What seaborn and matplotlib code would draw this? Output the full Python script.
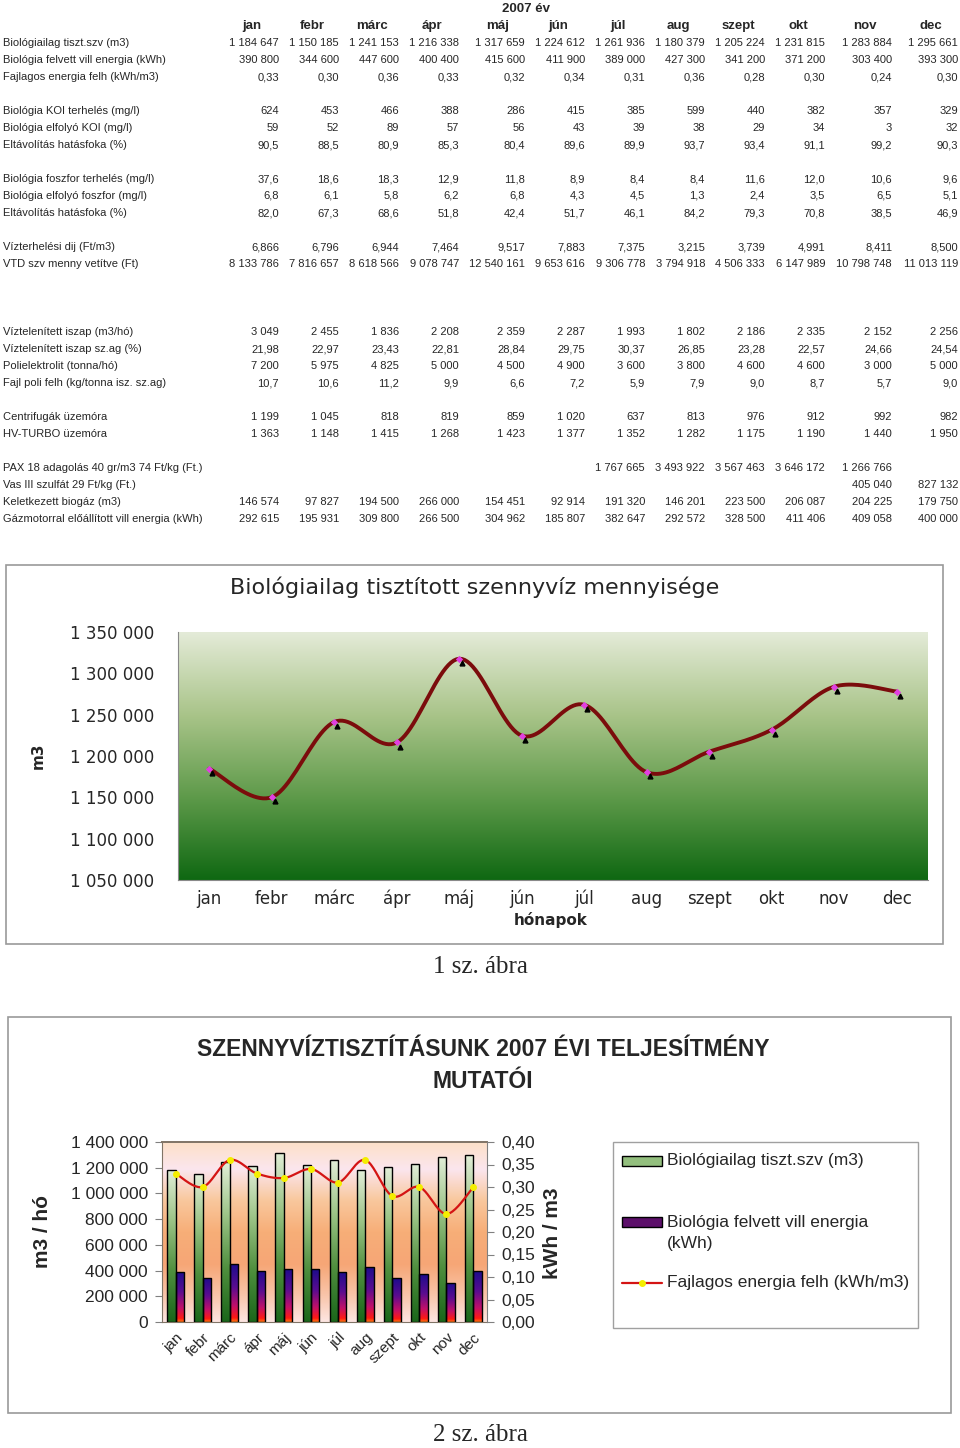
import numpy as np
import pandas as pd
import matplotlib
matplotlib.use("Agg")
import matplotlib.pyplot as plt
import matplotlib.transforms as mtrans
import seaborn as sns
from matplotlib.colors import LinearSegmentedColormap
from matplotlib.patches import Rectangle
from matplotlib.lines import Line2D
from matplotlib.ticker import FuncFormatter

sns.set_style("white")
plt.rcParams["font.family"] = ["Liberation Sans", "DejaVu Sans"]

# --- data (2007) ---
months = ["jan", "febr", "márc", "ápr", "máj", "jún", "júl", "aug", "szept", "okt", "nov", "dec"]

szv_m3 = [1184647, 1150185, 1241153, 1216338, 1317659, 1224612, 1261936, 1180379, 1205224, 1231815, 1283884, 1295661]
energia_kwh = [390800, 344600, 447600, 400400, 415600, 411900, 389000, 427300, 341200, 371200, 303400, 393300]
fajl_energia = [0.33, 0.30, 0.36, 0.33, 0.32, 0.34, 0.31, 0.36, 0.28, 0.30, 0.24, 0.30]
koi_terheles = [624, 453, 466, 388, 286, 415, 385, 599, 440, 382, 357, 329]
koi_elfolyo = [59, 52, 89, 57, 56, 43, 39, 38, 29, 34, 3, 32]
koi_hatasfok = [90.5, 88.5, 80.9, 85.3, 80.4, 89.6, 89.9, 93.7, 93.4, 91.1, 99.2, 90.3]
p_terheles = [37.6, 18.6, 18.3, 12.9, 11.8, 8.9, 8.4, 8.4, 11.6, 12.0, 10.6, 9.6]
p_elfolyo = [6.8, 6.1, 5.8, 6.2, 6.8, 4.3, 4.5, 1.3, 2.4, 3.5, 6.5, 5.1]
p_hatasfok = [82.0, 67.3, 68.6, 51.8, 42.4, 51.7, 46.1, 84.2, 79.3, 70.8, 38.5, 46.9]
vizterh_dij = [6.866, 6.796, 6.944, 7.464, 9.517, 7.883, 7.375, 3.215, 3.739, 4.991, 8.411, 8.500]
vtd_ft = [8133786, 7816657, 8618566, 9078747, 12540161, 9653616, 9306778, 3794918, 4506333, 6147989, 10798748, 11013119]
iszap_m3 = [3049, 2455, 1836, 2208, 2359, 2287, 1993, 1802, 2186, 2335, 2152, 2256]
iszap_szag = [21.98, 22.97, 23.43, 22.81, 28.84, 29.75, 30.37, 26.85, 23.28, 22.57, 24.66, 24.54]
polielektrolit = [7200, 5975, 4825, 5000, 4500, 4900, 3600, 3800, 4600, 4600, 3000, 5000]
fajl_poli = [10.7, 10.6, 11.2, 9.9, 6.6, 7.2, 5.9, 7.9, 9.0, 8.7, 5.7, 9.0]
centrifuga_ora = [1199, 1045, 818, 819, 859, 1020, 637, 813, 976, 912, 992, 982]
hvturbo_ora = [1363, 1148, 1415, 1268, 1423, 1377, 1352, 1282, 1175, 1190, 1440, 1950]
pax18_ft = [None] * 6 + [1767665, 3493922, 3567463, 3646172, 1266766, None]
vas3_ft = [None] * 10 + [405040, 827132]
biogaz_m3 = [146574, 97827, 194500, 266000, 154451, 92914, 191320, 146201, 223500, 206087, 204225, 179750]
gazmotor_kwh = [292615, 195931, 309800, 266500, 304962, 185807, 382647, 292572, 328500, 411406, 409058, 400000]

# values as plotted on the first chart (dec point sits lower than the table)
chart1_m3 = [1184647, 1150185, 1241153, 1216338, 1317659, 1224612, 1261936, 1180379, 1205224, 1231815, 1283884, 1278000]

# table rows: (label, values, decimals), None = empty row
table_rows = [
    ("Biológiailag tiszt.szv (m3)", szv_m3, 0),
    ("Biológia felvett vill energia (kWh)", energia_kwh, 0),
    ("Fajlagos energia felh (kWh/m3)", fajl_energia, 2),
    None,
    ("Biológia KOI terhelés (mg/l)", koi_terheles, 0),
    ("Biológia elfolyó KOI (mg/l)", koi_elfolyo, 0),
    ("Eltávolítás hatásfoka (%)", koi_hatasfok, 1),
    None,
    ("Biológia foszfor terhelés (mg/l)", p_terheles, 1),
    ("Biológia elfolyó foszfor (mg/l)", p_elfolyo, 1),
    ("Eltávolítás hatásfoka (%)", p_hatasfok, 1),
    None,
    ("Vízterhelési dij (Ft/m3)", vizterh_dij, 3),
    ("VTD szv menny vetítve (Ft)", vtd_ft, 0),
    None, None, None,
    ("Víztelenített iszap (m3/hó)", iszap_m3, 0),
    ("Víztelenített iszap sz.ag (%)", iszap_szag, 2),
    ("Polielektrolit (tonna/hó)", polielektrolit, 0),
    ("Fajl poli felh (kg/tonna isz. sz.ag)", fajl_poli, 1),
    None,
    ("Centrifugák üzemóra", centrifuga_ora, 0),
    ("HV-TURBO üzemóra", hvturbo_ora, 0),
    None,
    ("PAX 18 adagolás 40 gr/m3 74 Ft/kg (Ft.)", pax18_ft, 0),
    ("Vas III szulfát 29 Ft/kg (Ft.)", vas3_ft, 0),
    ("Keletkezett biogáz (m3)", biogaz_m3, 0),
    ("Gázmotorral előállított vill energia (kWh)", gazmotor_kwh, 0),
]

W, H = 960, 1448


def fx(x):
    return x / W


def fy(y):
    return 1 - y / H


def hu(v, d=0):
    if v is None:
        return ""
    return f"{v:,.{d}f}".replace(",", " ").replace(".", ",")


def smooth(y, n=24):
    # Excel-style smoothed line: cubic Bezier through the points
    p = np.column_stack([np.arange(len(y)), np.asarray(y, float)])
    ext = np.vstack([p[0], p, p[-1]])
    t = np.linspace(0, 1, n)[:, None]
    segs = []
    for i in range(len(p) - 1):
        p0, p1, p2, p3 = ext[i], ext[i + 1], ext[i + 2], ext[i + 3]
        c1 = p1 + (p2 - p0) / 6
        c2 = p2 - (p3 - p1) / 6
        seg = (1 - t) ** 3 * p1 + 3 * (1 - t) ** 2 * t * c1 + 3 * (1 - t) * t ** 2 * c2 + t ** 3 * p2
        segs.append(seg if i == 0 else seg[1:])
    pts = np.vstack(segs)
    return pts[:, 0], pts[:, 1]


grad = np.linspace(0, 1, 256).reshape(-1, 1)

fig = plt.figure(figsize=(9.6, 14.48), dpi=100)

# --- table ---
col_right = [279, 339, 399, 459, 525, 585, 645, 705, 765, 825, 892, 958]
fig.text(fx(526), fy(9), "2007 év", ha="center", va="center", fontsize=9.5, fontweight="bold")
for m, xr in zip(months, col_right):
    fig.text(fx(xr - 27), fy(26), m, ha="center", va="center", fontsize=9.5, fontweight="bold")
for k, row in enumerate(table_rows):
    if row is None:
        continue
    label, vals, dec = row
    y = 43 + 17 * k
    fig.text(fx(3), fy(y), label, ha="left", va="center", fontsize=8)
    for v, xr in zip(vals, col_right):
        fig.text(fx(xr), fy(y), hu(v, dec), ha="right", va="center", fontsize=8)

# --- chart 1 ---
fig.patches.append(Rectangle((fx(6), fy(944)), fx(943) - fx(6), fy(565) - fy(944),
                             transform=fig.transFigure, fill=False, edgecolor="#9a9a9a", lw=1.2))
ax1 = fig.add_axes([fx(178), fy(880), (928 - 178) / W, (880 - 632) / H])
green_bg = LinearSegmentedColormap.from_list("gbg", ["#e4ebd8", "#a9c489", "#5e9a4a", "#0f6812"])
ax1.imshow(grad, cmap=green_bg, extent=(-0.5, 11.5, 1050000, 1350000), aspect="auto", origin="upper", zorder=0)
xs, ys = smooth(chart1_m3)
ax1.plot(xs, ys, color="#7b0c0c", lw=2.8, solid_capstyle="round", zorder=3)
off = ax1.transData + mtrans.ScaledTranslation(2 / 72, -3 / 72, fig.dpi_scale_trans)
ax1.plot(range(12), chart1_m3, ls="none", marker="^", ms=3.5, color="black", transform=off, zorder=4)
sns.scatterplot(x=list(range(12)), y=chart1_m3, ax=ax1, marker="D", color="#e040e0", s=14,
                linewidth=0, zorder=5)
ax1.set_xlim(-0.5, 11.5)
ax1.set_ylim(1050000, 1350000)
ax1.set_yticks(np.arange(1050000, 1350001, 50000))
ax1.yaxis.set_major_formatter(FuncFormatter(lambda v, p: hu(v)))
ax1.set_xticks(np.arange(-0.5, 12, 1))
ax1.set_xticklabels([])
ax1.set_xticks(range(12), minor=True)
ax1.set_xticklabels(months, minor=True)
ax1.tick_params(axis="x", which="major", length=6, color="#8a8a8a", direction="out")
ax1.tick_params(axis="x", which="minor", length=0, pad=7, labelsize=12, labelfontfamily="DejaVu Sans")
ax1.tick_params(axis="y", length=8, color="#8a8a8a", direction="out", pad=9, labelsize=12,
                labelfontfamily="DejaVu Sans")
for s in ["top", "right"]:
    ax1.spines[s].set_visible(False)
for s in ["left", "bottom"]:
    ax1.spines[s].set_color("#8a8a8a")
ax1.set_xlabel("")
ax1.set_ylabel("")
fig.text(fx(475), fy(587), "Biológiailag tisztított szennyvíz mennyisége", ha="center", va="center",
         fontsize=16, family="DejaVu Sans")
fig.text(fx(551), fy(920), "hónapok", ha="center", va="center", fontsize=11, fontweight="bold",
         family="DejaVu Sans")
fig.text(fx(38), fy(756), "m3", ha="center", va="center", rotation=90, fontsize=11, fontweight="bold",
         family="DejaVu Sans")
fig.text(0.5, fy(967), "1 sz. ábra", ha="center", va="center", fontsize=18, family="Liberation Serif")

# --- chart 2 ---
fig.patches.append(Rectangle((fx(8), fy(1413)), fx(951) - fx(8), fy(1017) - fy(1413),
                             transform=fig.transFigure, fill=False, edgecolor="#9a9a9a", lw=1.2))
fig.text(0.503, fy(1050), "SZENNYVÍZTISZTÍTÁSUNK 2007 ÉVI TELJESÍTMÉNY", ha="center", va="center",
         fontsize=16.5, fontweight="bold")
fig.text(0.503, fy(1082), "MUTATÓI", ha="center", va="center", fontsize=16.5, fontweight="bold")

ax2 = fig.add_axes([fx(162), fy(1322), (487 - 162) / W, (1322 - 1142) / H])
orange_bg = LinearSegmentedColormap.from_list(
    "obg", [(0, "#fde0c8"), (0.15, "#fbe6ee"), (0.32, "#f9c89e"), (0.5, "#f7ae78"),
            (0.68, "#f6a676"), (0.86, "#f9c6ac"), (1, "#fde6e2")])
ax2.imshow(grad, cmap=orange_bg, extent=(-0.5, 11.5, 0, 1400000), aspect="auto", origin="upper", zorder=0)

s_szv = "Biológiailag tiszt.szv (m3)"
s_en = "Biológia felvett vill energia (kWh)"
bars = pd.DataFrame({
    "month": months * 2,
    "series": [s_szv] * 12 + [s_en] * 12,
    "value": szv_m3 + energia_kwh,
})
sns.barplot(data=bars, x="month", y="value", hue="series", hue_order=[s_szv, s_en], ax=ax2,
            width=0.62, palette=["#7fae6a", "#5a1070"], saturation=1, errorbar=None,
            edgecolor="black", linewidth=1.0, legend=False)

green_bar = LinearSegmentedColormap.from_list("gbar", ["#e2eed8", "#9cc487", "#4f8f3e", "#1a661a"])
energy_bar = LinearSegmentedColormap.from_list(
    "ebar", [(0, "#1c0c8c"), (0.4, "#5a0c90"), (0.72, "#c0106a"), (0.93, "#ff1a12"), (1, "#ff7a10")])
for i, bar in enumerate(list(ax2.patches)):
    cm = green_bar if i < 12 else energy_bar
    x0, w, h = bar.get_x(), bar.get_width(), bar.get_height()
    im = ax2.imshow(grad, cmap=cm, extent=(x0, x0 + w, 0, h), aspect="auto", origin="upper", zorder=2)
    im.set_clip_path(bar)
    bar.set_facecolor("none")
    bar.set_zorder(3)

ax2.set_xlim(-0.5, 11.5)
ax2.set_ylim(0, 1400000)
ax2.set_yticks(np.arange(0, 1400001, 200000))
ax2.yaxis.set_major_formatter(FuncFormatter(lambda v, p: hu(v)))
ax2.set_xticks(np.arange(-0.5, 12, 1))
ax2.set_xticklabels([])
ax2.set_xticks(range(12), minor=True)
ax2.set_xticklabels(months, minor=True, rotation=45, ha="right", rotation_mode="anchor")
ax2.tick_params(axis="x", which="major", length=4, color="#808080", direction="inout")
ax2.tick_params(axis="x", which="minor", length=0, pad=6, labelsize=11)
ax2.tick_params(axis="y", length=5, color="#808080", direction="out", pad=5, labelsize=12.5)
ax2.set_xlabel("")
ax2.set_ylabel("")
for s in ["left", "bottom", "top"]:
    ax2.spines[s].set_color("#807466")
ax2.spines["top"].set_linewidth(1.4)
ax2.spines["right"].set_visible(False)

ax2r = ax2.twinx()
lx, ly = smooth(fajl_energia)
ax2r.plot(lx, ly, color="#d41414", lw=1.6, zorder=4)
ax2r.plot(range(12), fajl_energia, ls="none", marker="o", ms=4, color="#f4ee00", zorder=5)
ax2r.set_ylim(0, 0.40)
ax2r.set_yticks(np.arange(0, 0.401, 0.05))
ax2r.yaxis.set_major_formatter(FuncFormatter(lambda v, p: f"{v:.2f}".replace(".", ",")))
ax2r.tick_params(axis="y", length=5, color="#808080", direction="out", pad=5, labelsize=12.5)
for s in ["left", "bottom", "top"]:
    ax2r.spines[s].set_visible(False)
ax2r.spines["right"].set_color("#808080")

fig.text(fx(43), fy(1232), "m3 / hó", ha="center", va="center", rotation=90, fontsize=15, fontweight="bold")
fig.text(fx(552), fy(1233), "kWh / m3", ha="center", va="center", rotation=90, fontsize=15, fontweight="bold")

# legend box (drawn by hand to follow the original spacing)
fig.patches.append(Rectangle((fx(613), fy(1328)), fx(918) - fx(613), fy(1142) - fy(1328),
                             transform=fig.transFigure, facecolor="white", edgecolor="#a0a0a0", lw=1.0))
fig.patches.append(Rectangle((fx(622), fy(1166)), 40 / W, 10 / H, transform=fig.transFigure,
                             facecolor="#93bf7e", edgecolor="black", lw=1.0))
fig.patches.append(Rectangle((fx(622), fy(1227)), 40 / W, 10 / H, transform=fig.transFigure,
                             facecolor="#5c0f6a", edgecolor="black", lw=1.0))
fig.lines.append(Line2D([fx(622), fx(662)], [fy(1283), fy(1283)], transform=fig.transFigure,
                        color="#d41414", lw=1.6))
fig.lines.append(Line2D([fx(642)], [fy(1283)], transform=fig.transFigure, ls="none", marker="o", ms=4,
                        color="#f4ee00"))
fig.text(fx(667), fy(1161), "Biológiailag tiszt.szv (m3)", ha="left", va="center", fontsize=12.5)
fig.text(fx(667), fy(1233), "Biológia felvett vill energia\n(kWh)", ha="left", va="center", fontsize=12.5,
         linespacing=1.45)
fig.text(fx(667), fy(1283), "Fajlagos energia felh (kWh/m3)", ha="left", va="center", fontsize=12.5)

fig.text(0.5, fy(1435), "2 sz. ábra", ha="center", va="center", fontsize=18, family="Liberation Serif")

fig.savefig("out.png", dpi=100)
